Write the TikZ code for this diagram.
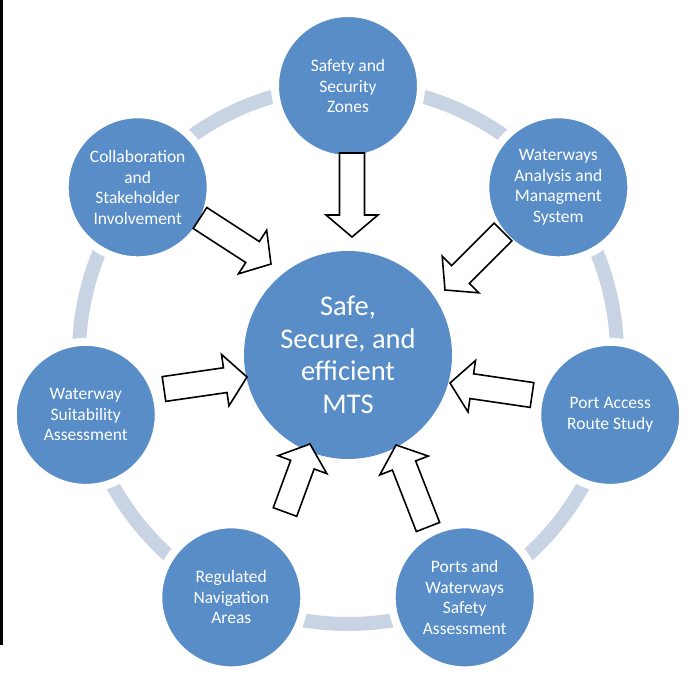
\documentclass[tikz,border=0pt]{standalone}
\usepackage{fontspec}
\setmainfont{Carlito}
\usepackage{tikz}
\usetikzlibrary{calc}
\definecolor{mtsblue}{RGB}{88,141,200}
\definecolor{ringgray}{RGB}{200,211,228}

% block arrow from tail #1 to tip #2
\newcommand{\bigarrow}[2]{%
  \coordinate (H) at ($(#2)!22pt!(#1)$);
  \draw[blockarrow] ($(#1)!12.5pt!90:(#2)$) -- ($(H)!12.5pt!-90:(#1)$)
    -- ($(H)!26pt!-90:(#1)$) -- (#2) -- ($(H)!26pt!90:(#1)$)
    -- ($(H)!12.5pt!90:(#1)$) -- ($(#1)!12.5pt!-90:(#2)$) -- cycle;}

\begin{document}
\begin{tikzpicture}[x=1pt,y=-1pt,
  topic/.style={circle,fill=mtsblue,draw=white,line width=8pt,minimum size=146pt,
    inner sep=0pt,text=white,align=center,font=\fontsize{17.5}{20.5}\selectfont},
  hub/.style={circle,fill=mtsblue,minimum size=208pt,inner sep=0pt,text=white,
    align=center,font=\fontsize{28.5}{32.5}\selectfont},
  blockarrow/.style={draw=black,fill=white,line width=1.6pt}]
  \useasboundingbox (0,0) rectangle (694,677);
  \fill[black] (0,0) rectangle (3,645);
  % ring behind the outer circles
  \coordinate (c) at (348,355);
  \draw[ringgray,line width=14pt] (c) circle (269);
  \node[hub] (mts) at (c) {Safe,\\Secure, and\\efficient\\MTS};
  % outer circles
  \foreach \nm/\a/\txt in {
      zones/90/{Safety and\\Security\\Zones},
      wams/38.57/{Waterways\\Analysis and\\Managment\\System},
      pars/-12.86/{Port Access\\Route Study},
      pwsa/-64.29/{Ports and\\Waterways\\Safety\\Assessment},
      rna/-115.71/{Regulated\\Navigation\\Areas},
      wsa/-167.14/{Waterway\\Suitability\\Assessment},
      csi/141.43/{Collaboration\\and\\Stakeholder\\Involvement}}
    \node[topic] (\nm) at ($(c)+(-\a:269)$) {\txt};
  % arrows into the hub
  \coordinate (zonesT) at (352,153); \coordinate (zonesP) at (352,237);
  \coordinate (csiT) at (200,218);   \coordinate (csiP) at (271,264);
  \coordinate (wamsT) at (503,232);  \coordinate (wamsP) at (445,290);
  \coordinate (wsaT) at (164,389);   \coordinate (wsaP) at (247,377);
  \coordinate (parsT) at (532,395);  \coordinate (parsP) at (450,383);
  \coordinate (rnaT) at (285,512);   \coordinate (rnaP) at (310,444);
  \coordinate (pwsaT) at (428,527);  \coordinate (pwsaP) at (396,445);
  \bigarrow{zonesT}{zonesP}
  \bigarrow{csiT}{csiP}
  \bigarrow{wamsT}{wamsP}
  \bigarrow{wsaT}{wsaP}
  \bigarrow{parsT}{parsP}
  \bigarrow{rnaT}{rnaP}
  \bigarrow{pwsaT}{pwsaP}
\end{tikzpicture}
\end{document}
